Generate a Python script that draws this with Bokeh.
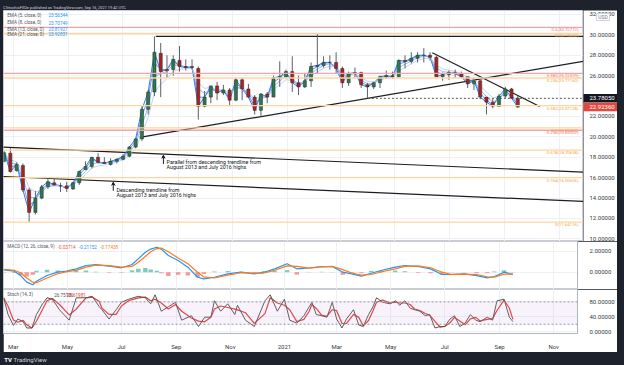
import pandas as pd
from bokeh.plotting import figure
from bokeh.layouts import column, row
from bokeh.core.properties import value
from bokeh.models import (Range1d, FixedTicker, NumeralTickFormatter, Span, Label,
                          Arrow, VeeHead, BoxAnnotation, ColumnDataSource,
                          GlobalInlineStyleSheet)
from bokeh.embed import file_html
from bokeh.resources import INLINE

FONT = "Roboto"
DARK = "#1e222d"
AXIS_TXT = "#363a45"

def ms(s):
    return pd.Timestamp(s).value / 1e6

# ---------------- data ----------------
week_start = pd.date_range("2020-02-17", "2021-09-13", freq="W-MON")
opens = [17.6, 18.4, 16.7, 17.2, 14.8, 12.6, 14.0, 15.1, 15.5, 15.2, 15.2, 14.9, 15.5, 16.8, 17.1,
         18.0, 17.5, 17.3, 17.6, 17.8, 18.1, 19.0, 19.8, 22.7, 24.4, 28.2, 26.5, 26.6, 27.5, 26.9,
         26.9, 26.7, 23.0, 23.9, 25.0, 24.3, 24.6, 23.6, 25.6, 24.7, 23.9, 22.6, 24.2, 23.9, 25.8,
         25.9, 26.4, 25.3, 24.9, 25.5, 26.9, 27.0, 27.3, 27.3, 26.7, 25.3, 26.2, 26.3, 25.1, 24.9,
         25.3, 25.9, 26.0, 25.9, 27.5, 27.4, 27.7, 28.0, 28.0, 27.8, 25.9, 26.1, 26.3, 26.2, 25.9,
         25.2, 25.5, 23.9, 23.4, 23.0, 24.0, 24.7, 23.8]
highs = [18.6, 18.9, 17.5, 17.4, 15.0, 14.7, 15.3, 15.9, 15.9, 15.5, 15.6, 15.6, 16.7, 17.6, 18.0,
         18.4, 18.0, 17.9, 17.9, 18.3, 19.1, 19.9, 23.0, 24.6, 29.86, 29.2, 28.0, 28.0, 28.9, 27.6,
         27.6, 26.9, 24.5, 25.0, 25.4, 25.1, 24.8, 25.8, 25.8, 25.2, 24.1, 24.3, 24.4, 26.0, 27.4,
         26.6, 27.9, 26.0, 26.2, 27.3, 30.1, 27.9, 28.0, 28.3, 26.9, 26.4, 26.8, 26.4, 25.3, 25.4,
         26.0, 26.5, 26.4, 27.6, 28.0, 28.3, 28.3, 28.7, 28.3, 28.0, 26.3, 26.5, 26.6, 26.4, 25.9,
         25.8, 25.6, 23.9, 23.8, 24.2, 24.9, 24.8, 24.0]
lows = [17.5, 16.5, 16.6, 14.6, 11.64, 12.4, 13.9, 14.9, 15.2, 14.6, 14.6, 14.8, 15.3, 16.8, 16.9,
        17.4, 17.4, 17.2, 17.4, 17.7, 18.0, 18.9, 19.6, 22.2, 24.0, 23.9, 25.8, 26.0, 26.4, 26.5,
        26.6, 21.7, 22.9, 23.3, 23.6, 24.1, 23.0, 23.5, 23.6, 23.8, 22.2, 22.0, 23.3, 23.9, 24.9,
        25.8, 24.4, 24.1, 24.8, 24.9, 26.2, 26.8, 26.6, 26.2, 24.8, 25.0, 25.8, 24.8, 23.8, 24.7,
        24.8, 25.7, 25.7, 25.8, 26.7, 27.2, 27.3, 27.3, 27.5, 25.9, 25.5, 25.6, 25.8, 25.8, 24.8,
        24.6, 23.7, 22.2, 22.8, 23.0, 23.8, 23.7, 22.85]
closes = [18.45, 16.6, 17.3, 14.8, 12.6, 14.0, 15.1, 15.6, 15.3, 15.2, 14.95, 15.5, 16.6, 17.1, 18.0,
          17.5, 17.4, 17.6, 17.8, 18.1, 19.0, 19.8, 22.7, 24.4, 28.3, 26.4, 26.6, 27.6, 26.9, 26.8,
          26.8, 23.0, 23.9, 25.0, 24.3, 24.6, 23.6, 25.6, 24.7, 23.9, 22.6, 24.2, 23.9, 25.8, 25.9,
          26.4, 25.3, 24.9, 25.5, 26.9, 27.0, 27.3, 27.3, 26.7, 25.3, 26.2, 26.3, 25.1, 24.9, 25.3,
          25.9, 26.0, 25.9, 27.5, 27.4, 27.7, 28.0, 28.0, 27.8, 25.9, 26.1, 26.3, 26.2, 25.9, 25.2,
          25.5, 23.9, 23.4, 23.0, 24.0, 24.7, 23.8, 22.92]

ema_periods = [5, 8, 13, 21]
ema_names = ["EMA (5, close, 0)", "EMA (8, close, 0)", "EMA (13, close, 0)", "EMA (21, close, 0)"]
ema_last = ["23.56344", "23.70749", "23.81927", "23.92831"]

red_fib_levels = [30.72772, 26.22329, 20.65002]
red_fib_labels = ["0.5(30.72772)", "0.382(26.22329)", "0.236(20.65002)"]
orange_fib_levels = [30.13650, 25.77160, 23.07128, 20.88883, 18.70638, 16.00606, 11.64116]
orange_fib_labels = ["0(30.13650)", "0.236(25.77160)", "0.382(23.07128)", "0.5(20.88883)",
                     "0.618(18.70638)", "0.764(16.00606)", "0(11.64116)"]

# trendline anchors (date, price)
trend_lines = [
    (("2020-08-07", 29.86), ("2021-11-28", 29.86)),
    (("2020-07-20", 19.95), ("2021-11-28", 27.42)),
    (("2021-06-12", 28.25), ("2021-10-10", 22.98)),
    (("2020-02-18", 18.99), ("2021-11-28", 16.54)),
    (("2020-02-18", 16.12), ("2021-11-28", 13.67)),
]
ray_level = 23.78050
ray_start = "2021-04-01"
last_price = 22.92360

macd_dates = ["2020-02-19", "2020-03-02", "2020-03-09", "2020-03-16", "2020-03-23", "2020-03-27",
              "2020-04-08", "2020-04-20", "2020-04-30", "2020-05-11", "2020-05-22", "2020-06-02",
              "2020-06-17", "2020-07-01", "2020-07-13", "2020-07-20", "2020-07-28", "2020-08-03",
              "2020-08-10", "2020-08-15", "2020-08-23", "2020-09-03", "2020-09-14", "2020-09-25",
              "2020-10-02", "2020-10-14", "2020-10-29", "2020-11-13", "2020-11-28", "2020-12-09",
              "2020-12-21", "2021-01-04", "2021-01-15", "2021-01-29", "2021-02-12", "2021-02-24",
              "2021-03-08", "2021-03-18", "2021-03-29", "2021-04-09", "2021-04-20", "2021-05-06",
              "2021-05-17", "2021-06-01", "2021-06-15", "2021-06-28", "2021-07-08", "2021-07-23",
              "2021-08-06", "2021-08-18", "2021-08-26", "2021-09-06", "2021-09-16"]
macd_line = [0.23, 0.10, -0.31, -0.95, -1.20, -0.86, -0.31, 0.00, 0.10, 0.32, 0.64, 0.73, 0.57, 0.42,
             0.73, 1.27, 1.90, 2.20, 2.38, 2.20, 1.59, 1.11, 0.48, -0.48, -0.63, -0.48, -0.16, 0.00,
             -0.16, 0.00, 0.32, 0.80, 0.32, 0.40, 0.54, 0.54, 0.00, -0.16, -0.38, -0.10, 0.16, 0.48,
             0.64, 0.54, 0.32, -0.22, -0.22, -0.16, -0.32, -0.54, -0.41, 0.00, -0.21152]
signal_line = [0.28, 0.18, -0.05, -0.55, -0.95, -1.00, -0.55, -0.15, 0.05, 0.18, 0.48, 0.68, 0.63,
               0.48, 0.55, 0.95, 1.50, 1.95, 2.25, 2.30, 1.95, 1.35, 0.80, 0.00, -0.45, -0.55,
               -0.28, -0.05, -0.08, -0.08, 0.18, 0.60, 0.55, 0.38, 0.50, 0.56, 0.25, -0.08, -0.28,
               -0.22, 0.02, 0.32, 0.55, 0.60, 0.42, 0.00, -0.20, -0.18, -0.22, -0.45, -0.48, -0.18,
               -0.17438]
macd_title = "MACD (12, 26, close, 9)"
macd_vals = ["-0.03714", "-0.21152", "-0.17438"]

stoch_dates = ["2020-02-19", "2020-02-24", "2020-03-01", "2020-03-06", "2020-03-12", "2020-03-16",
               "2020-03-22", "2020-03-27", "2020-04-03", "2020-04-08", "2020-04-14", "2020-04-22",
               "2020-05-03", "2020-05-11", "2020-05-22", "2020-05-29", "2020-06-06", "2020-06-09",
               "2020-06-17", "2020-06-25", "2020-07-01", "2020-07-09", "2020-07-20", "2020-07-28",
               "2020-08-03", "2020-08-08", "2020-08-15", "2020-08-23", "2020-08-31", "2020-09-07",
               "2020-09-18", "2020-09-26", "2020-10-03", "2020-10-10", "2020-10-14", "2020-10-21",
               "2020-10-29", "2020-11-06", "2020-11-09", "2020-11-18", "2020-11-28", "2020-12-10",
               "2020-12-16", "2020-12-24", "2021-01-01", "2021-01-07", "2021-01-15", "2021-01-23",
               "2021-01-29", "2021-02-01", "2021-02-06", "2021-02-12", "2021-02-18", "2021-02-24",
               "2021-03-01", "2021-03-07", "2021-03-12", "2021-03-20", "2021-03-26", "2021-03-31",
               "2021-04-06", "2021-04-11", "2021-04-15", "2021-04-22", "2021-04-30", "2021-05-07",
               "2021-05-11", "2021-05-17", "2021-05-23", "2021-05-28", "2021-06-03", "2021-06-09",
               "2021-06-14", "2021-06-20", "2021-06-26", "2021-07-01", "2021-07-07", "2021-07-12",
               "2021-07-18", "2021-07-24", "2021-07-30", "2021-08-05", "2021-08-10", "2021-08-18",
               "2021-08-24", "2021-08-29", "2021-09-06", "2021-09-12", "2021-09-16"]
stoch_k = [91, 46, 17, 34, 27, 10, 10, 46, 75, 91, 87, 59, 31, 91, 91, 95, 67, 59, 34, 59, 79, 87,
           95, 91, 75, 99, 55, 67, 79, 31, 43, 14, 39, 39, 83, 55, 75, 46, 71, 31, 14, 83, 99, 55,
           87, 31, 23, 43, 67, 79, 46, 43, 39, 79, 34, 10, 34, 59, 18, 14, 46, 67, 91, 79, 75, 83,
           71, 83, 63, 59, 55, 43, 46, 10, 14, 14, 34, 43, 14, 23, 46, 31, 27, 39, 31, 83, 87, 39,
           27]
stoch_title = "Stoch (14, 3)"
stoch_vals = ["26.75106", "28.61981"]

month_ticks = ["2020-03-01", "2020-05-01", "2020-07-01", "2020-09-01", "2020-11-01", "2021-01-01",
               "2021-03-01", "2021-05-01", "2021-07-01", "2021-09-01", "2021-11-01"]
month_labels = ["Mar", "May", "Jul", "Sep", "Nov", "2021", "Mar", "May", "Jul", "Sep", "Nov"]
price_ticks = [10, 12, 14, 16, 18, 20, 22, 26, 28, 30, 32]
macd_ticks = [0, 2]
stoch_ticks = [0, 40, 80]

title_text = "CVecchioFXDe published on TradingView.com, Sep 16, 2021 19:42 UTC"

# ---------------- helpers ----------------
tick_ms = [ms(t) for t in month_ticks]
X0, X1 = ms("2020-02-18 20:00"), ms("2021-11-27 22:00")
x_range = Range1d(X0, X1)
DAY = 86400000.0


def style_yaxis(ax):
    ax.formatter = NumeralTickFormatter(format="0.00000")
    ax.major_label_text_font_size = "6px"
    ax.major_label_text_font = FONT
    ax.major_label_text_color = AXIS_TXT
    ax.major_tick_line_color = None
    ax.minor_tick_line_color = None
    ax.axis_line_color = "#b2b5be"
    ax.major_label_standoff = 6


def panel(width, height, y0, y1, bottom=0, xaxis=False, yaxis=True, margin=(0, 7, 0, 3)):
    p = figure(width=width, height=height, x_range=x_range, y_range=Range1d(y0, y1),
               x_axis_type="datetime", x_axis_location="below" if xaxis else None,
               y_axis_location="right" if yaxis else None, toolbar_location=None,
               output_backend="svg", min_border_left=0, min_border_right=34 if yaxis else 0,
               min_border_top=0, min_border_bottom=bottom, margin=margin,
               background_fill_color="white", border_fill_color="white",
               outline_line_color="#c9ccd4")
    p.xgrid.ticker = FixedTicker(ticks=tick_ms)
    p.grid.grid_line_color = "#eef0f5"
    if yaxis:
        style_yaxis(p.yaxis[0])
    return p


def set_yticks(p, ticks):
    if p.yaxis:
        p.yaxis[0].ticker = FixedTicker(ticks=ticks)
    p.ygrid.ticker = FixedTicker(ticks=ticks)


def lbl(p, x, y, text, color, size="4.6px", align="left", base="middle", **kw):
    p.add_layout(Label(x=x, y=y, text=text, text_color=color, text_font=FONT,
                       text_font_size=size, text_align=align, text_baseline=base, **kw))

# ---------------- main price panel ----------------
main = panel(580, 231, 9.745, 32.39, yaxis=False, margin=(0, 0, 0, 3))
set_yticks(main, price_ticks)

for lv in orange_fib_levels:
    main.add_layout(Span(location=lv, dimension="width", line_color="#ffd59e", line_width=1.3))
for lv in red_fib_levels:
    main.add_layout(Span(location=lv, dimension="width", line_color="#f2a5a5", line_width=1.3))
for lv, t in zip(orange_fib_levels, orange_fib_labels):
    lbl(main, X1, lv, t, "#f7a24a", size="4.3px", align="right", base="top", x_offset=-5)
for lv, t in zip(red_fib_levels, red_fib_labels):
    lbl(main, X1, lv, t, "#e57373", size="4.3px", align="right", base="top", x_offset=-5)

for (d0, p0), (d1, p1) in trend_lines:
    main.line([ms(d0), ms(d1)], [p0, p1], line_color="#1b1d24", line_width=1.2)

main.line([ms(ray_start), X1], [ray_level, ray_level], line_color="#555555",
          line_dash="2 2", line_width=1)

cx = [ms(d) + 2.5 * DAY for d in week_start]
cl = pd.Series(closes)
ema_colors = ["#1e66f5", "#4f8ff0", "#86b2f5", "#b6cdf8"]
for per, col in zip(ema_periods, ema_colors):
    ema = cl.ewm(span=per / 5.0, adjust=False).mean()
    main.line(cx, list(ema), line_color=col, line_width=1, line_alpha=0.9)

up = [c >= o for o, c in zip(opens, closes)]
src = ColumnDataSource(dict(
    x=cx, o=opens, h=highs, l=lows, c=closes,
    top=[max(o, c) for o, c in zip(opens, closes)],
    bot=[min(o, c) for o, c in zip(opens, closes)],
    col=["#2b7a4b" if u else "#a82424" for u in up]))
main.segment("x", "h", "x", "l", source=src, line_color="#5d606b", line_width=1)
main.vbar(x="x", top="top", bottom="bot", width=3.5 * DAY, fill_color="col",
          line_color="#2a2a2a", line_width=0.5, source=src)

# annotations
ann_txt = [("2020-08-19", 17.56, "Parallel from descending trendline from"),
           ("2020-08-19", 17.00, "August 2013 and July 2016 highs"),
           ("2020-06-24", 14.84, "Descending trendline from"),
           ("2020-06-24", 14.30, "August 2013 and July 2016 highs")]
for d, y, t in ann_txt:
    lbl(main, ms(d), y, t, "#131722", size="5.4px")
for d, y0, y1 in [("2020-08-15 12:00", 17.35, 18.20), ("2020-06-20 12:00", 14.72, 15.55)]:
    main.add_layout(Arrow(end=VeeHead(size=3, line_color="#131722", line_width=1),
                          x_start=ms(d), y_start=y0, x_end=ms(d), y_end=y1,
                          line_color="#131722", line_width=1))

# EMA legend
for i, (nm, v) in enumerate(zip(ema_names, ema_last)):
    y = [31.90, 31.19, 30.53, 30.04][i]
    lbl(main, ms("2020-02-23"), y, nm, "#50535e")
    lbl(main, ms("2020-04-09"), y, v, "#2196f3")

# price scale of the main panel (shares the main y range)
pax = figure(width=34, height=231, x_range=Range1d(0, 34), y_range=main.y_range,
             x_axis_location=None, y_axis_location=None, toolbar_location=None,
             output_backend="svg", min_border=0, margin=(0, 7, 0, 0),
             background_fill_color="white", border_fill_color="white", outline_line_color=None)
pax.grid.visible = False
pax.text(x=[6] * len(price_ticks), y=price_ticks, text=[f"{t:.5f}" for t in price_ticks],
         text_font=value(FONT), text_font_size="6px", text_color=AXIS_TXT,
         text_baseline="middle")
pax.rect(x=[17.5, 17.5], y=[ray_level, last_price], width=[36, 36], height=[8.5, 8.5],
         height_units="screen", fill_color=["#131722", "#e0483e"], line_color=None)
pax.text(x=[6, 6], y=[ray_level, last_price], text=[f"{ray_level:.5f}", f"{last_price:.5f}"],
         text_font=value(FONT), text_font_size="6px", text_color="white",
         text_baseline="middle")
pax.rect(x=[19.5], y=[31.75], width=[13], height=[7], height_units="screen",
         fill_color="white", line_color="#d1d4dc", line_width=1)
pax.text(x=[19.5], y=[31.75], text=["USD"], text_font=value(FONT), text_font_size="5px",
         text_color="#787b86", text_baseline="middle", text_align="center")

# ---------------- MACD panel ----------------
macd = panel(614, 48, -1.648, 2.924)
set_yticks(macd, macd_ticks)
mx = [ms(d) for d in macd_dates]
hist = [m - s for m, s in zip(macd_line, signal_line)]
hcol = ["#26a69a" if h >= 0 else "#ef5350" for h in hist]
macd.vbar(x=mx, top=hist, bottom=0, width=5 * DAY, fill_color=hcol, line_color=None,
          fill_alpha=0.6)
macd.line(mx, macd_line, line_color="#2196f3", line_width=1.2)
macd.line(mx, signal_line, line_color="#ff7a1a", line_width=1.2)
lbl(macd, ms("2020-02-23"), 2.42, macd_title, "#50535e")
for d, v, c in zip(["2020-04-20", "2020-05-14", "2020-06-07"], macd_vals,
                   ["#ef5350", "#2196f3", "#ff7a1a"]):
    lbl(macd, ms(d), 2.42, v, c)

# ---------------- Stoch panel ----------------
stoch = panel(614, 63, -4.8, 113.3, bottom=14, xaxis=True)
set_yticks(stoch, stoch_ticks)
stoch.add_layout(BoxAnnotation(bottom=20, top=80, fill_color="#c79fd6", fill_alpha=0.13,
                               line_color=None))
for lv in [20, 80]:
    stoch.add_layout(Span(location=lv, dimension="width", line_color="#9598a1",
                          line_dash="2 2", line_width=1))
sx = [ms(d) for d in stoch_dates]
stoch_d = pd.Series(stoch_k).rolling(2, min_periods=1).mean()
stoch.line(sx, list(stoch_d), line_color="#e53935", line_width=1.2)
stoch.line(sx, stoch_k, line_color="#555555", line_width=1)
lbl(stoch, ms("2020-02-23"), 98.8, stoch_title, "#50535e")
lbl(stoch, ms("2020-04-16"), 98.8, stoch_vals[0], "#50535e")
lbl(stoch, ms("2020-04-30"), 98.8, stoch_vals[1], "#e53935")

xa = stoch.xaxis[0]
xa.ticker = FixedTicker(ticks=tick_ms)
xa.major_label_overrides = {t: l for t, l in zip(tick_ms, month_labels)}
xa.major_label_text_font_size = "6px"
xa.major_label_text_font = FONT
xa.major_label_text_color = AXIS_TXT
xa.major_tick_line_color = None
xa.minor_tick_line_color = None
xa.axis_line_color = "#b2b5be"
xa.major_label_standoff = 3

# ---------------- top and bottom bars ----------------
def bar(height, w=624):
    b = figure(width=w, height=height, x_range=Range1d(0, w), y_range=Range1d(0, height),
               x_axis_location=None, y_axis_location=None, toolbar_location=None,
               output_backend="svg", min_border=0, background_fill_color=DARK,
               border_fill_color=DARK, outline_line_color=None)
    b.grid.visible = False
    return b

top = bar(10)
top.add_layout(Label(x=3, y=5, text=title_text, text_color="#d1d4dc", text_font=FONT,
                     text_font_size="3.9px", text_baseline="middle"))
bottom = bar(13)
bottom.add_layout(Label(x=4, y=6.5, text="TV", text_color="white", text_font=FONT,
                        text_font_size="6px", text_font_style="bold", text_baseline="middle"))
bottom.add_layout(Label(x=14, y=6.5, text="TradingView", text_color="#d1d4dc", text_font=FONT,
                        text_font_size="6px", text_baseline="middle"))

layout = column(top, row(main, pax, spacing=0), macd, stoch, bottom, spacing=0,
                stylesheets=[GlobalInlineStyleSheet(css="body{margin:0;background:%s;}" % DARK)])

open("out.html", "w").write(file_html(layout, INLINE))
